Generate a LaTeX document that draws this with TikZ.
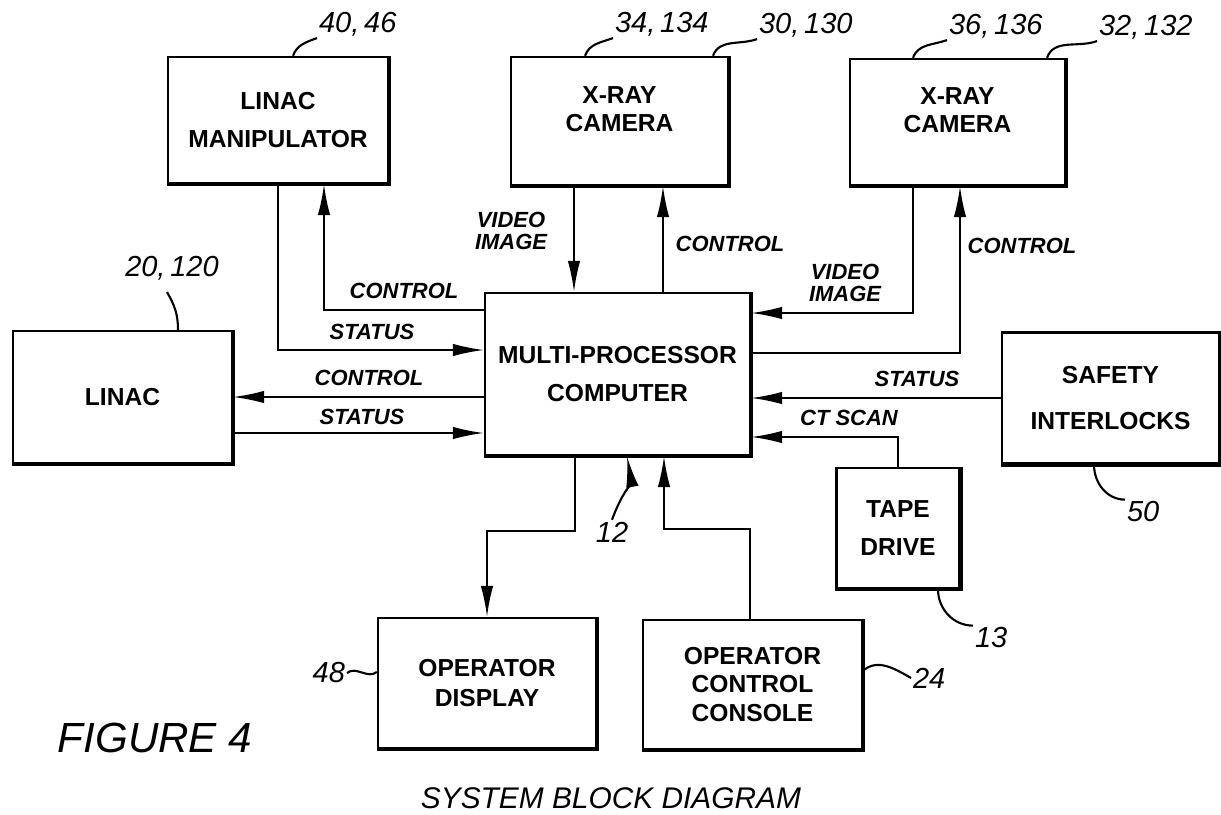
\documentclass[tikz,border=0pt]{standalone}
\usepackage{fontspec}
\setmainfont{Liberation Sans}
\usetikzlibrary{positioning, arrows.meta, calc}

\begin{document}
\begin{tikzpicture}[x=0.02cm, y=0.02cm, >={Latex[length=0.62cm, width=0.25cm]},
    block/.style={draw, line width=1.4pt, inner sep=0pt, align=center,
        font=\bfseries\fontsize{14}{16}\selectfont},
    sig/.style={font=\bfseries\itshape\fontsize{12.5}{12.5}\selectfont, inner sep=0pt, align=center},
    refnum/.style={font=\itshape\fontsize{16.5}{16.5}\selectfont, inner sep=1pt},
    wire/.style={line width=1.1pt},
    lead/.style={line width=1.2pt}]

    % 0. Okraje
    \useasboundingbox (0,0) rectangle (1221,-815);

    % 1. Bloky
    \node[block, minimum width=4.40cm, minimum height=2.52cm] (manip) at (278,-120) {LINAC\\[6pt]MANIPULATOR};
    \node[block, minimum width=4.34cm, minimum height=2.56cm] (camA) at (619.5,-121) {X-RAY\\CAMERA\\[-2pt]\mbox{}};
    \node[block, minimum width=4.30cm, minimum height=2.52cm] (camB) at (957.5,-122) {X-RAY\\CAMERA\\[-2pt]\mbox{}};
    \node[block, minimum width=4.38cm, minimum height=2.64cm] (linac) at (122.5,-397) {LINAC};
    \node[block, minimum width=5.30cm, minimum height=3.24cm] (mpc) at (617.5,-374) {MULTI-PROCESSOR\\[6pt]COMPUTER};
    \node[block, minimum width=4.34cm, minimum height=2.62cm] (safety) at (1110.5,-398) {SAFETY\\[10pt]INTERLOCKS};
    \node[block, minimum width=2.46cm, minimum height=2.40cm] (tape) at (898,-528) {TAPE\\[6pt]DRIVE};
    \node[block, minimum width=4.36cm, minimum height=2.60cm] (display) at (487,-683) {OPERATOR\\[1pt]DISPLAY};
    \node[block, minimum width=4.38cm, minimum height=2.58cm] (console) at (752.5,-684.5) {OPERATOR\\CONTROL\\CONSOLE};

    % stin na spodni a prave hrane
    \foreach \b in {manip, camA, camB, linac, mpc, safety, tape, display, console} {
        \draw[line width=2.2pt] (\b.north east) -- (\b.south east) -- (\b.south west);
    }

    % 2. Spoje
    \draw[wire, ->] (manip.south) |- ($(mpc.west)+(0,24)$);
    \draw[wire, ->] ($(mpc.west)+(0,64)$) -| ($(manip.south)+(46,0)$);
    \draw[wire, ->] ($(mpc.west)+(0,-23)$) -- (linac.east);
    \draw[wire, ->] ($(linac.east)+(0,-36)$) -- ($(mpc.west)+(0,-59)$);
    \draw[wire, ->] ($(camA.south)+(-45.5,0)$) -- ($(mpc.north)+(-43.5,0)$);
    \draw[wire, ->] ($(mpc.north)+(45.5,0)$) -- ($(camA.south)+(43.5,0)$);
    \draw[wire, ->] ($(camB.south)+(-44.5,0)$) |- ($(mpc.east)+(0,61)$);
    \draw[wire, ->] ($(mpc.east)+(0,21)$) -| ($(camB.south)+(2.5,0)$);
    \draw[wire, ->] (safety.west) -- ($(mpc.east)+(0,-24)$);
    \draw[wire, ->] (tape.north) |- ($(mpc.east)+(0,-63)$);
    \draw[wire, ->] ($(mpc.south)+(-42.5,0)$) -- ++(0,-75) -| (display.north);
    \draw[wire, ->] ($(console.north)+(-2.5,0)$) -- ++(0,90) -| ($(mpc.south)+(46.5,0)$);

    % 3. Popisky signalu
    \foreach \n/\x/\y/\t in {ctlManip/404/291/CONTROL, stManip/372/332/STATUS,
        ctlLinac/369/378/CONTROL, stLinac/362/417/STATUS,
        vidA/511/231/{VIDEO\\IMAGE}, ctlA/730/244/CONTROL,
        vidB/845/283/{VIDEO\\IMAGE}, ctlB/1022/246/CONTROL,
        stSafety/917/379/STATUS, ctScan/849/418/CT SCAN} {
        \node[sig] (\n) at (\x,-\y) {\t};
    }

    % 4. Vztahove znacky
    \foreach \n/\a/\x/\y/\t in {n4046/west/317/24/{40,\,46}, n34134/west/613/24/{34,\,134},
        n30130/west/757/25/{30,\,130}, n36136/west/947/26/{36,\,136},
        n32132/west/1097/27/{32,\,132}, n20120/center/172/268/{20,\,120},
        n12/center/612/532/12, n13/west/973/638/13, n50/west/1125/512/50,
        n48/east/347/673/48, n24/west/911/678/24} {
        \node[refnum, anchor=\a] (\n) at (\x,-\y) {\t};
    }

    \draw[lead] ($(manip.north)+(15,0)$) to[out=70,in=200] (n4046.south west);
    \draw[lead] ($(camA.north)+(-34.5,0)$) to[out=70,in=200] (n34134.south west);
    \draw[lead] ($(camA.north)+(93.5,0)$) to[out=70,in=200] (n30130.south west);
    \draw[lead] ($(camB.north)+(-44.5,0)$) to[out=70,in=200] (n36136.south west);
    \draw[lead] ($(camB.north)+(89.5,0)$) to[out=70,in=200] (n32132.south west);
    \draw[lead] ($(linac.north)+(55.5,0)$) to[out=90,in=-60] ($(n20120.south)+(-5,-10)$);
    \draw[lead, ->] (n12.north) to[out=70,in=-80] ($(mpc.south)+(9.5,0)$);
    \draw[lead] ($(tape.south)+(40,0)$) to[out=-90,in=180] (n13.north west);
    \draw[lead] ($(safety.south)+(-16.5,0)$) to[out=-90,in=180] (n50.north west);
    \draw[lead] (n48.east) to[out=40,in=220] ($(display.west)+(0,11)$);
    \draw[lead] ($(console.east)+(0,14)$) to[out=40,in=150] (n24.west);

    % 5. Nazev
    \node[font=\itshape\fontsize{24}{24}\selectfont] (fig) at (155,-738) {FIGURE 4};
    \node[font=\itshape\fontsize{17}{17}\selectfont] (title) at (611,-798) {SYSTEM BLOCK DIAGRAM};

\end{tikzpicture}
\end{document}
